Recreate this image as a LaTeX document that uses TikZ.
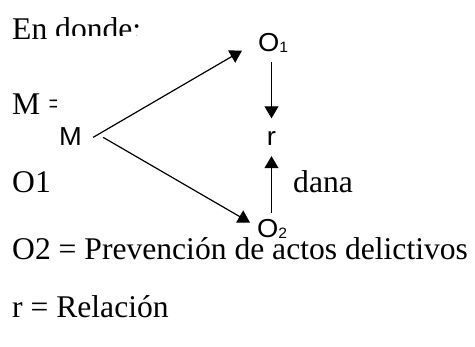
\documentclass[tikz,border=0pt]{standalone}
\usepackage{fontspec}
\setmainfont{Liberation Serif}
\newfontfamily\diagfont{Liberation Sans}
\usetikzlibrary{arrows.meta,calc}
\newcommand{\mysub}[1]{\raisebox{-0.5pt}{\fontsize{15}{15}\selectfont #1}}
\newcommand{\wide}[1]{\scalebox{1.05}[1]{#1}}
\begin{document}
\begin{tikzpicture}[x=1pt,y=-1pt,
  body/.style={anchor=base west,inner sep=0pt,font=\fontsize{31.6}{34}\selectfont},
  lbl/.style={inner sep=0pt,font=\diagfont\fontsize{26}{28}\selectfont},
  arr/.style={line width=1.2pt,-{Triangle[length=12pt,width=14pt]}}]
\useasboundingbox (0,0) rectangle (475,347);
\node[body] (t0) at (12,40) {En donde:};
\node[body] (t1) at (12,115) {M =};
\node[body] (t2) at (12,193) {O1};
\node[body] (t3) at (293,193) {dana};
\node[body] (t4) at (12,260) {O2 = Prevención de actos delictivos};
\node[body] (t5) at (12,318) {r = Relación};
\fill[white] (57,36) rectangle (289,231);
\node[lbl,anchor=base west] (M) at (59,146) {\wide{M}};
\node[lbl,anchor=base west] (O1) at (258,52) {\wide{O\mysub{1}}};
\node[lbl,anchor=base] (r) at (271.5,146) {\wide{r}};
\node[lbl,anchor=base west] (O2) at (257,238) {\wide{O\mysub{2}}};
\draw[arr] ($(M.east)+(11,0.3)$) -- ($(O1.west)+(-16,7.4)$);
\draw[arr] ($(M.east)+(21,0.3)$) -- ($(O2.west)+(-7,-6.6)$);
\draw[arr] ($(O1.south -| r.north)+(0,9.5)$) -- ($(r.north)+(0,-13.5)$);
\draw[arr] ($(O2.north -| r.south)+(0,-6.8)$) -- ($(r.south)+(0,10)$);
\end{tikzpicture}
\end{document}
